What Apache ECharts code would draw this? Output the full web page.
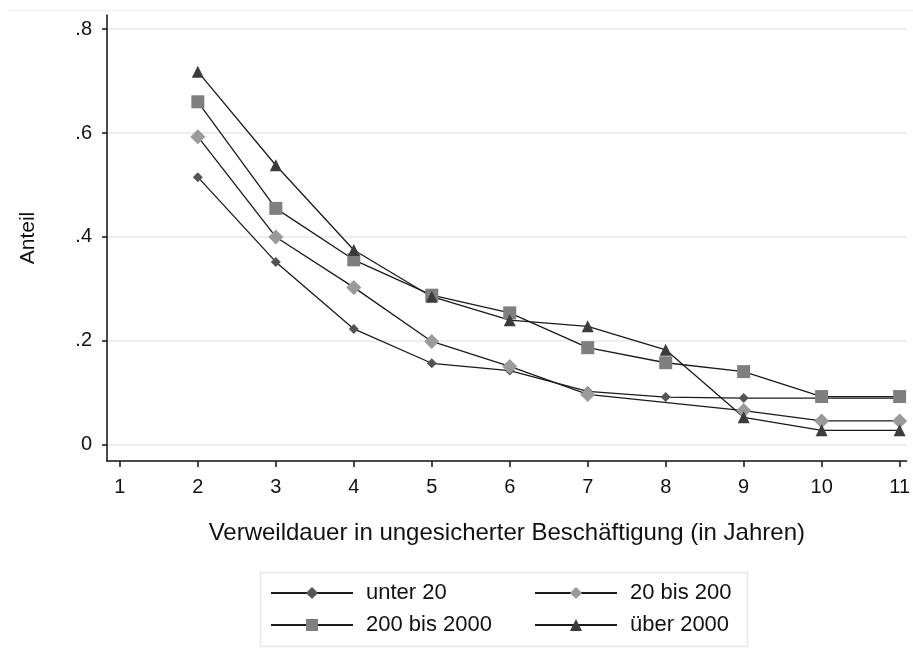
<!DOCTYPE html>
<html>
<head>
<meta charset="utf-8">
<script src="https://cdn.jsdelivr.net/npm/echarts@6/dist/echarts.min.js"></script>
<style>
  html, body { margin: 0; padding: 0; background: #fff; }
  #main { width: 913px; height: 664px; }
</style>
</head>
<body>
<div id="main"></div>
<script>
// values
var years = [2, 3, 4, 5, 6, 7, 8, 9, 10, 11];
var unter20 = [0.515, 0.352, 0.223, 0.157, 0.143, 0.103, 0.092, 0.090, 0.090, 0.090];
var bis200 = [0.593, 0.400, 0.303, 0.199, 0.151, 0.097, null, 0.066, 0.046, 0.046];
var bis2000 = [0.660, 0.455, 0.356, 0.288, 0.254, 0.187, 0.158, 0.141, 0.093, 0.093];
var ueber2000 = [0.718, 0.538, 0.375, 0.285, 0.240, 0.228, 0.183, 0.053, 0.028, 0.028];
var xTicks = [1, 2, 3, 4, 5, 6, 7, 8, 9, 10, 11];
var yTicks = [0, 0.2, 0.4, 0.6, 0.8];
var yTickLabels = ['0', '.2', '.4', '.6', '.8'];

var font = 'Liberation Sans, Arial, sans-serif';

function pairs(vals) {
    return years.map(function (x, i) { return [x, vals[i]]; });
}

function makeSeries(name, vals, symbol, size, color) {
    return {
        name: name,
        type: 'line',
        data: pairs(vals),
        connectNulls: true,
        symbol: symbol,
        symbolSize: size,
        showAllSymbol: true,
        lineStyle: { color: '#1a1a1a', width: 1.3 },
        itemStyle: { color: color },
        emphasis: { disabled: true }
    };
}

var legendText = { fontSize: 22, color: '#111', fontFamily: font, padding: [0, 0, 0, 8] };

var myChart = echarts.init(document.getElementById('main'));
var option = {
    animation: false,
    backgroundColor: '#fff',
    textStyle: { fontFamily: font },
    grid: { left: 107, right: 0, top: 15, bottom: 203 },
    xAxis: {
        type: 'value',
        min: 0.835,
        max: 11.09,
        name: 'Verweildauer in ungesicherter Beschäftigung (in Jahren)',
        nameLocation: 'middle',
        nameGap: 60,
        nameTextStyle: { fontSize: 24, color: '#111', fontFamily: font },
        axisLine: { onZero: false, lineStyle: { color: '#111', width: 1.5 } },
        axisTick: { show: true, length: 6, customValues: xTicks, lineStyle: { color: '#111', width: 1.5 } },
        axisLabel: { customValues: xTicks, fontSize: 20, color: '#111', margin: 16, fontFamily: font },
        splitLine: { show: false }
    },
    yAxis: {
        type: 'value',
        min: -0.031,
        max: 0.827,
        name: 'Anteil',
        nameLocation: 'middle',
        nameGap: 68,
        nameTextStyle: { fontSize: 21, color: '#111', fontFamily: font },
        axisLine: { show: true, onZero: false, lineStyle: { color: '#111', width: 1.5 } },
        axisTick: { show: true, length: 5, customValues: yTicks, lineStyle: { color: '#111', width: 1.5 } },
        axisLabel: {
            customValues: yTicks,
            fontSize: 20,
            color: '#111',
            margin: 15,
            fontFamily: font,
            formatter: function (v) {
                var i = yTicks.indexOf(v);
                return i >= 0 ? yTickLabels[i] : '';
            }
        },
        splitLine: { show: true, lineStyle: { color: '#e8e8e8', width: 1.5 } }
    },
    legend: [{
        orient: 'vertical',
        left: 270,
        top: 582,
        padding: 0,
        itemWidth: 82,
        itemHeight: 15,
        itemGap: 10,
        textStyle: legendText,
        data: ['unter 20', '200 bis 2000']
    }, {
        orient: 'vertical',
        left: 534,
        top: 582,
        padding: 0,
        itemWidth: 82,
        itemHeight: 15,
        itemGap: 10,
        textStyle: legendText,
        data: ['20 bis 200', 'über 2000']
    }],
    graphic: [{
        type: 'rect',
        shape: { x: 260.5, y: 572.5, width: 487, height: 74 },
        style: { fill: 'none', stroke: '#e6e6e6', lineWidth: 1.5 },
        silent: true
    }, {
        type: 'line',
        shape: { x1: 8, y1: 10.5, x2: 913, y2: 10.5 },
        style: { stroke: '#f0f0f0', lineWidth: 1 },
        silent: true
    }],
    series: [
        makeSeries('unter 20', unter20, 'diamond', 10, '#555555'),
        makeSeries('20 bis 200', bis200, 'diamond', 15, '#9a9a9a'),
        makeSeries('200 bis 2000', bis2000, 'rect', 13, '#7f7f7f'),
        makeSeries('über 2000', ueber2000, 'triangle', 12, '#3c3c3c')
    ]
};

myChart.setOption(option);
</script>
</body>
</html>
